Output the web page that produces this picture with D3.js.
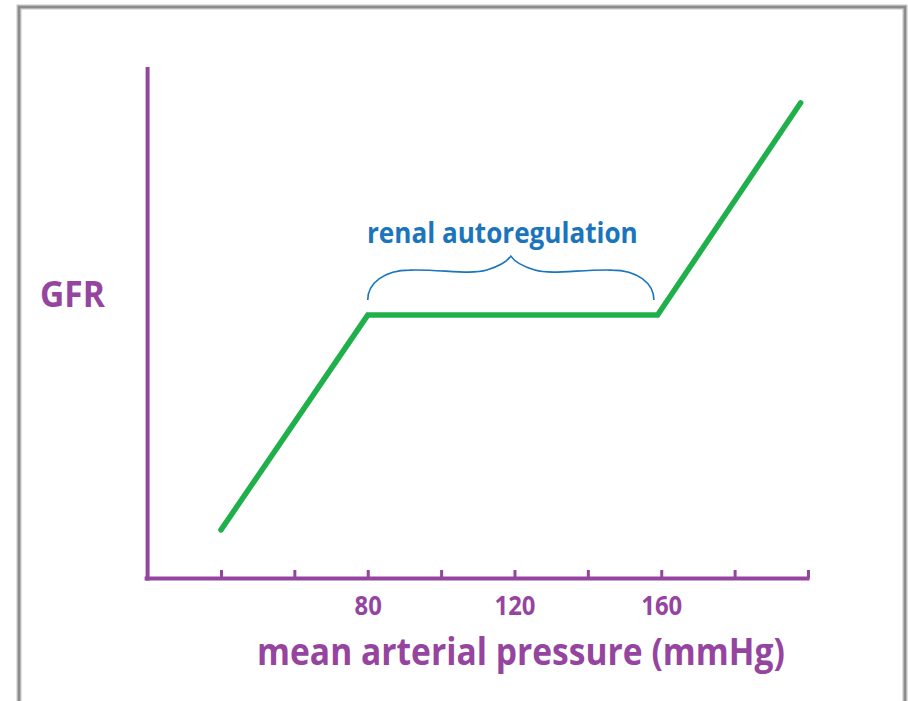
<!DOCTYPE html>
<html>
<head>
<meta charset="utf-8">
<script src="https://cdn.jsdelivr.net/npm/d3@7"></script>
<style>
  html, body { margin: 0; padding: 0; background: #fff; }
  svg { display: block; }
</style>
</head>
<body>
<svg id="chart" width="908" height="701"></svg>
<script>
// ---- data ----
const pressure = [40, 80, 159, 198];          // mean arterial pressure (mmHg)
const gfr = [9.5, 51.5, 51.5, 93];            // relative GFR (arbitrary units)
const tickValues = [40, 60, 80, 100, 120, 140, 160, 180, 200];
const tickLabels = [80, 120, 160];
const autoregRange = [80, 158];
const xTitle = "mean arterial pressure (mmHg)";
const yTitle = "GFR";
const annotation = "renal autoregulation";

// ---- layout ----
const W = 908, H = 701;
const purple = "#95459f", green = "#20b04b", blue = "#1b75bc";
const font = "'Open Sans', 'Noto Sans', sans-serif";

const svg = d3.select("#chart");

// frame
svg.append("rect").attr("x", 19).attr("y", 7).attr("width", 886).attr("height", H + 20)
  .attr("fill", "#fff").attr("stroke", "#c4c4c4").attr("stroke-width", 5);
svg.append("rect").attr("x", 19).attr("y", 7).attr("width", 886).attr("height", H + 20)
  .attr("fill", "none").attr("stroke", "#8c8c8c").attr("stroke-width", 2.5);

const x = d3.scaleLinear().domain([20, 200]).range([147.6, 808]);
const y = d3.scaleLinear().domain([0, 100]).range([578.5, 67]);

// x axis
const xAxis = d3.axisBottom(x).tickValues(tickValues).tickSize(-8.5)
  .tickFormat(d => tickLabels.includes(d) ? d : "");
const gx = svg.append("g").attr("transform", `translate(0,${y(0)})`).call(xAxis);
gx.select(".domain").remove();
gx.selectAll(".tick line").attr("stroke", purple).attr("stroke-width", 3);
gx.selectAll(".tick text")
  .attr("fill", purple).attr("y", 36.5).attr("dy", 0)
  .style("font-family", font).style("font-weight", 700).style("font-size", "21px");
gx.append("line").attr("x1", x(20) - 3).attr("x2", x(200) + 1.5).attr("y1", 0).attr("y2", 0)
  .attr("stroke", purple).attr("stroke-width", 4);

// y axis
svg.append("line").attr("x1", x(20)).attr("x2", x(20)).attr("y1", y(100)).attr("y2", y(0) + 2)
  .attr("stroke", purple).attr("stroke-width", 4);

// helper to fit text width
function fit(sel, targetW) {
  const w = sel.node().getComputedTextLength();
  const fs = parseFloat(sel.style("font-size"));
  sel.style("font-size", (fs * targetW / w) + "px");
}
function stretchY(sel, k) {
  const bx = +sel.attr("x"), by = +sel.attr("y");
  sel.attr("transform", `translate(${bx},${by}) scale(1,${k}) translate(${-bx},${-by})`);
}

// tick labels fit
gx.selectAll(".tick text").each(function(d) {
  if (d === 160) {
    const w = this.getComputedTextLength();
    const fs = 21 * 41 / w;
    gx.selectAll(".tick text").style("font-size", fs + "px")
      .attr("transform", "translate(0,36.5) scale(1,1.1) translate(0,-36.5)");
  }
});

// titles
const xt = svg.append("text").attr("x", 257).attr("y", 665).text(xTitle)
  .attr("fill", purple).style("font-family", font).style("font-weight", 700).style("font-size", "32px");
fit(xt, 528);
stretchY(xt, 1.12);
const yt = svg.append("text").attr("x", 40).attr("y", 307).text(yTitle)
  .attr("fill", purple).style("font-family", font).style("font-weight", 700).style("font-size", "34px");
fit(yt, 65);
stretchY(yt, 1.06);

// green line
const line = d3.line().x((d, i) => x(pressure[i])).y((d, i) => y(gfr[i]));
svg.append("path").datum(pressure).attr("d", line)
  .attr("fill", "none").attr("stroke", green).attr("stroke-width", 5.5)
  .attr("stroke-linecap", "round").attr("stroke-linejoin", "miter");

// brace
const bx0 = x(autoregRange[0]), bx1 = x(autoregRange[1]), bm = (bx0 + bx1) / 2;
const yEnd = y(gfr[1]) - 15, yArm = yEnd - 30, yPeak = yEnd - 44;
const brace = d3.path();
brace.moveTo(bx0, yEnd);
brace.bezierCurveTo(bx0, yEnd - 17, bx0 + 17, yArm, bx0 + 42, yArm);
brace.bezierCurveTo(bx0 + 72, yArm - 1, bm - 41, yArm + 5, bm - 24, yArm);
brace.bezierCurveTo(bm - 11, yArm - 4, bm - 4, yPeak + 6, bm, yPeak);
brace.bezierCurveTo(bm + 4, yPeak + 6, bm + 11, yArm - 4, bm + 24, yArm);
brace.bezierCurveTo(bm + 41, yArm + 5, bx1 - 72, yArm - 1, bx1 - 42, yArm);
brace.bezierCurveTo(bx1 - 17, yArm, bx1, yEnd - 17, bx1, yEnd);
svg.append("path").attr("d", brace.toString())
  .attr("fill", "none").attr("stroke", blue).attr("stroke-width", 1.6);

// annotation text
const at = svg.append("text").attr("x", 367).attr("y", 243).text(annotation)
  .attr("fill", blue).style("font-family", font).style("font-weight", 700).style("font-size", "23px");
fit(at, 271);
stretchY(at, 1.08);
</script>
</body>
</html>
